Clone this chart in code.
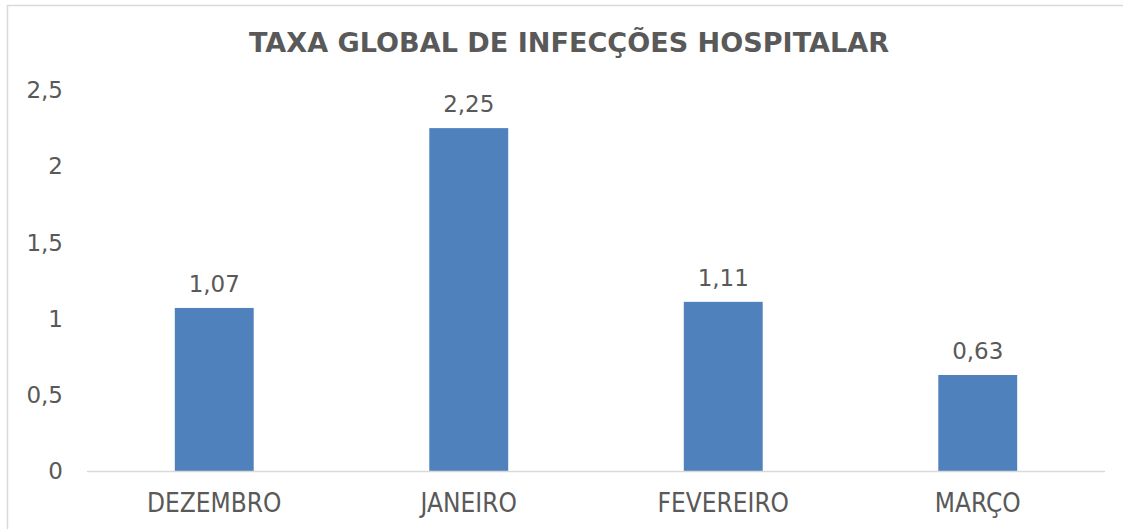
<!DOCTYPE html>
<html>
<head>
<meta charset="utf-8">
<script src="https://cdn.jsdelivr.net/npm/d3@7"></script>
<style>
  body { margin: 0; background: #fff; }
  text { font-family: "DejaVu Sans", Verdana, sans-serif; fill: #595959; }
</style>
</head>
<body>
<div id="chart"></div>
<script>
var w = 1123,
  h = 529;

// data
var months = ["DEZEMBRO", "JANEIRO", "FEVEREIRO", "MARÇO"];
var rates = [1.07, 2.25, 1.11, 0.63];
var yTicks = [0, 0.5, 1, 1.5, 2, 2.5];
var title = "TAXA GLOBAL DE INFECÇÕES HOSPITALAR";

var margin = { left: 87, right: 18, top: 90, bottom: 58 };

var svg = d3
  .select("#chart")
  .append("svg")
  .attr("width", w)
  .attr("height", h);

svg.append("rect").attr("width", w).attr("height", h).attr("fill", "#fff");

// chart area border (runs off the right/bottom of the picture)
svg
  .append("path")
  .attr("d", `M7.5,${h + 5}V5.5H${w + 5}`)
  .attr("fill", "none")
  .attr("stroke", "#d9d9d9")
  .attr("stroke-width", 1.5);

var x = d3
  .scaleBand()
  .domain(months)
  .range([margin.left, w - margin.right])
  .paddingInner(0.69)
  .paddingOuter(0.345);

var y = d3
  .scaleLinear()
  .domain([0, 2.5])
  .range([h - margin.bottom, h - margin.bottom - 381]);

var fmt = (d) => d3.format("")(d).replace(".", ",");

// y tick labels
svg
  .selectAll(".ytick")
  .data(yTicks)
  .enter()
  .append("text")
  .attr("class", "ytick")
  .attr("x", 63)
  .attr("y", (d) => y(d))
  .attr("dy", "0.36em")
  .attr("text-anchor", "end")
  .style("font-size", "23px")
  .text(fmt);

// bars
svg
  .selectAll(".bar")
  .data(rates)
  .enter()
  .append("rect")
  .attr("class", "bar")
  .attr("x", (d, i) => x(months[i]))
  .attr("width", x.bandwidth())
  .attr("y", (d) => y(d))
  .attr("height", (d) => y(0) - y(d))
  .attr("fill", "#4f81bd");

// baseline
svg
  .append("line")
  .attr("x1", margin.left)
  .attr("x2", w - margin.right)
  .attr("y1", y(0) + 0.5)
  .attr("y2", y(0) + 0.5)
  .attr("stroke", "#d9d9d9")
  .attr("stroke-width", 1.5);

// value labels
svg
  .selectAll(".val")
  .data(rates)
  .enter()
  .append("text")
  .attr("class", "val")
  .attr("x", (d, i) => x(months[i]) + x.bandwidth() / 2)
  .attr("y", (d) => y(d) - 16)
  .attr("text-anchor", "middle")
  .style("font-size", "23px")
  .text((d) => d3.format(".2f")(d).replace(".", ","));

// category labels
svg
  .selectAll(".cat")
  .data(months)
  .enter()
  .append("text")
  .attr("class", "cat")
  .attr("transform", (d) => `translate(${x(d) + x.bandwidth() / 2},512) scale(0.9,1)`)
  .attr("text-anchor", "middle")
  .style("font-size", "26px")
  .text((d) => d);

// title
svg
  .append("text")
  .attr("x", 569)
  .attr("y", 52)
  .attr("text-anchor", "middle")
  .style("font-size", "26px")
  .style("font-weight", "bold")
  .attr("textLength", 640)
  .attr("lengthAdjust", "spacingAndGlyphs")
  .text(title);
</script>
</body>
</html>
